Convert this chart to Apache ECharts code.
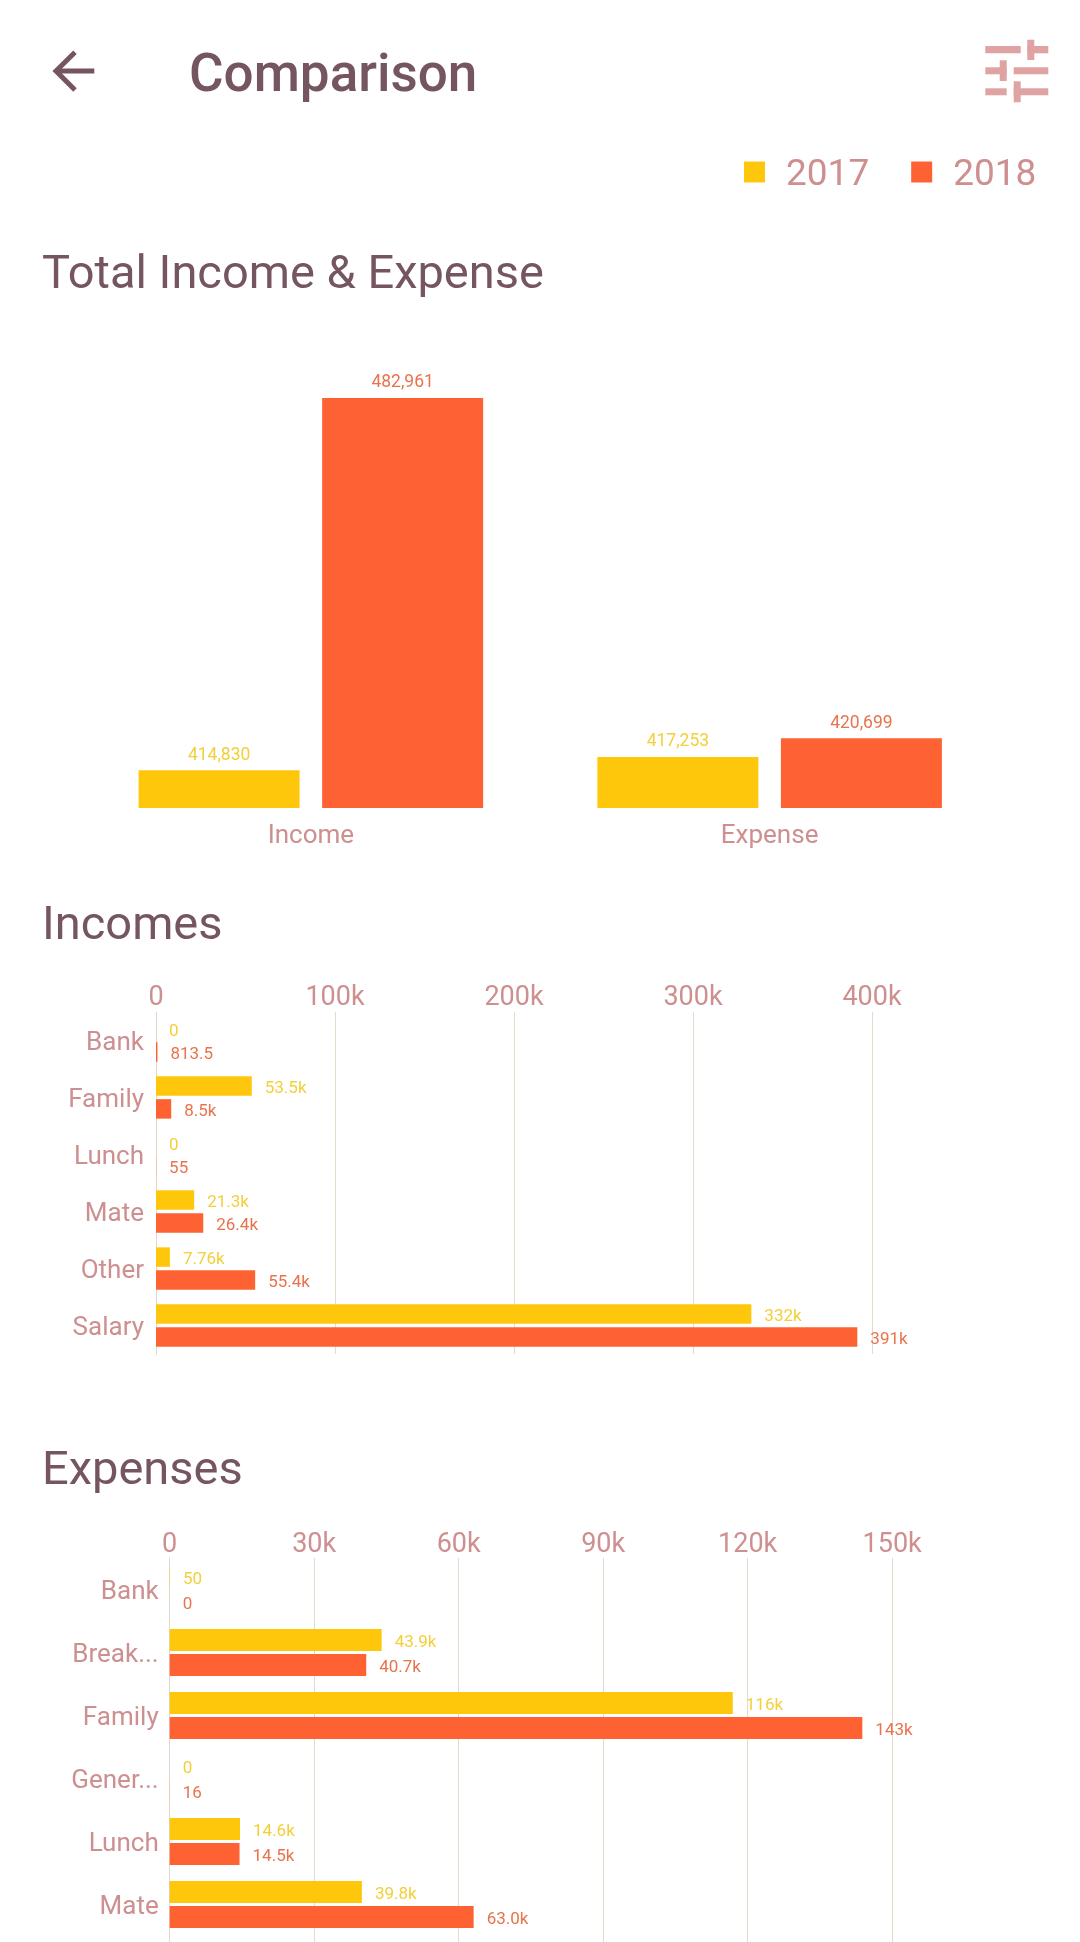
<!DOCTYPE html>
<html><head><meta charset="utf-8">
<style>html,body{margin:0;padding:0;background:#fff}#c{width:1080px;height:1942px}</style>
<script src="https://cdn.jsdelivr.net/npm/echarts@6/dist/echarts.min.js"></script>
</head><body><div id="c"></div>
<script>
const years = ['2017', '2018'];
const totalCats = ['Income', 'Expense'];
const total2017 = [414830, 417253];
const total2018 = [482961, 420699];
const incomeCats = ['Bank', 'Family', 'Lunch', 'Mate', 'Other', 'Salary'];
const income2017 = [0, 53500, 0, 21300, 7760, 332600];
const income2018 = [813.5, 8500, 55, 26400, 55400, 391800];
const incomeText2017 = ['0', '53.5k', '0', '21.3k', '7.76k', '332k'];
const incomeText2018 = ['813.5', '8.5k', '55', '26.4k', '55.4k', '391k'];
const expenseCats = ['Bank', 'Break...', 'Family', 'Gener...', 'Lunch', 'Mate', ''];
const expense2017 = [50, 44000, 116900, 0, 14600, 39900, null];
const expense2018 = [0, 40800, 143800, 16, 14500, 63100, null];
const expenseText2017 = ['50', '43.9k', '116k', '0', '14.6k', '39.8k', ''];
const expenseText2018 = ['0', '40.7k', '143k', '16', '14.5k', '63.0k', ''];

const FONT = 'Roboto';
const C17 = '#fec70b', C18 = '#fe6232', PINK = '#cd8f8f', DARK = '#75555f';
const L17 = '#f3cf3a', L18 = '#e8734c', GRIDC = '#e2dccb';

const kFmt = v => v === 0 ? '0' : (v / 1000) + 'k';

function xAxis(idx, interval, max, margin) {
  return { gridIndex: idx, type: 'value', position: 'top', min: 0, max, interval,
    axisLine: { show: false }, axisTick: { show: false },
    axisLabel: { color: PINK, fontFamily: FONT, fontSize: 27, margin, formatter: kFmt, hideOverlap: false },
    splitLine: { show: true, lineStyle: { color: GRIDC, width: 1 } } };
}
function yAxis(idx, cats, margin) {
  return { gridIndex: idx, type: 'category', inverse: true, data: cats,
    axisLine: { show: true, lineStyle: { color: '#e3d6cc', width: 1 } }, axisTick: { show: false },
    axisLabel: { color: PINK, fontFamily: FONT, fontSize: 26, margin, interval: 0,
      formatter: v => v ? '{a|' + v + '}' : '',
      rich: { a: { color: PINK, fontFamily: FONT, fontSize: 26, padding: [5, 0, 0, 0] } } } };
}
function hbar(idx, name, data, texts, color, lcolor, bw, gap) {
  return { type: 'bar', name, xAxisIndex: idx, yAxisIndex: idx, data, barWidth: bw, barGap: gap,
    itemStyle: { color }, silent: true, animation: false,
    label: { show: true, position: 'right', distance: 13, offset: [0, 3], color: lcolor, fontFamily: FONT, fontSize: 17,
      formatter: p => texts[p.dataIndex] } };
}
function vbar(name, data, color, lcolor) {
  return { type: 'bar', name, xAxisIndex: 0, yAxisIndex: 0, data, barWidth: 161, barGap: '14%',
    itemStyle: { color }, silent: true, animation: false,
    label: { show: true, position: 'top', distance: 6, color: lcolor, fontFamily: FONT, fontSize: 17.5,
      formatter: p => p.value.toLocaleString('en-US') } };
}
function txt(x, y, s, size, weight) {
  return { type: 'text', x, y, style: { text: s, fontFamily: FONT, fontSize: size, fontWeight: weight || 400, fill: DARK,
    textVerticalAlign: 'middle', textBaseline: 'middle' } };
}
function bars(rects) {
  return rects.map(r => ({ type: 'rect', shape: { x: r[0], y: r[1], width: r[2] - r[0], height: r[3] - r[1] }, style: { fill: '#e0a3a3' } }));
}

const chart = echarts.init(document.getElementById('c'), null, { width: 1080, height: 1942 });
chart.setOption({
  animation: false,
  backgroundColor: '#fff',
  legend: { left: 739, top: 152, itemWidth: 21, itemHeight: 21, itemGap: 42, icon: 'rect', data: years,
    selectedMode: false, formatter: n => '{a|' + n + '}',
    textStyle: { color: PINK, fontFamily: FONT, fontSize: 37, padding: [0, 0, 0, 16],
      rich: { a: { color: PINK, fontFamily: FONT, fontSize: 37, padding: [7, 0, 0, 0] } } } },
  grid: [
    { left: 81.5, top: 398, width: 917.5, height: 410, outerBoundsMode: 'none' },
    { left: 156, top: 1012, width: 716, height: 342, outerBoundsMode: 'none' },
    { left: 169.7, top: 1558, width: 722.5, height: 441, outerBoundsMode: 'none' }
  ],
  xAxis: [
    { gridIndex: 0, type: 'category', data: totalCats, axisLine: { show: false }, axisTick: { show: false },
      axisLabel: { color: PINK, fontFamily: FONT, fontSize: 26, margin: 15 } },
    xAxis(1, 100000, 400000, 0),
    xAxis(2, 30000, 150000, -1)
  ],
  yAxis: [
    { gridIndex: 0, type: 'value', min: 407920, max: 482961, show: false },
    yAxis(1, incomeCats, 12),
    yAxis(2, expenseCats, 11)
  ],
  series: [
    vbar(years[0], total2017, C17, L17),
    vbar(years[1], total2018, C18, L18),
    hbar(1, years[0], income2017, incomeText2017, C17, L17, 19.5, '17%'),
    hbar(1, years[1], income2018, incomeText2018, C18, L18, 19.5, '17%'),
    hbar(2, years[0], expense2017, expenseText2017, C17, L17, 22, '14%'),
    hbar(2, years[1], expense2018, expenseText2018, C18, L18, 22, '14%')
  ],
  graphic: { elements: [
    txt(189, 78, 'Comparison', 53, 500),
    txt(42, 276, 'Total Income & Expense', 47),
    txt(42, 927, 'Incomes', 47),
    txt(42, 1472, 'Expenses', 47),
    { type: 'polyline', shape: { points: [[75, 52.3], [56, 71], [75, 90]] }, style: { stroke: DARK, lineWidth: 5, fill: null } },
    { type: 'line', shape: { x1: 56, y1: 71, x2: 94.3, y2: 71 }, style: { stroke: DARK, lineWidth: 5 } },
    ...bars([
      [985.3, 46, 1020.7, 53.3], [1027.3, 46, 1048.3, 53.3], [1027.3, 39.7, 1034.3, 60],
      [985.3, 67.3, 1006.7, 74.3], [999.7, 60.3, 1006.7, 81], [1013.7, 67.3, 1048.3, 74.3],
      [985.3, 88.3, 1006.7, 95.3], [1013.7, 81.3, 1020.7, 102.3], [1013.7, 88.3, 1048.3, 95.3]
    ])
  ] }
});
</script></body></html>
